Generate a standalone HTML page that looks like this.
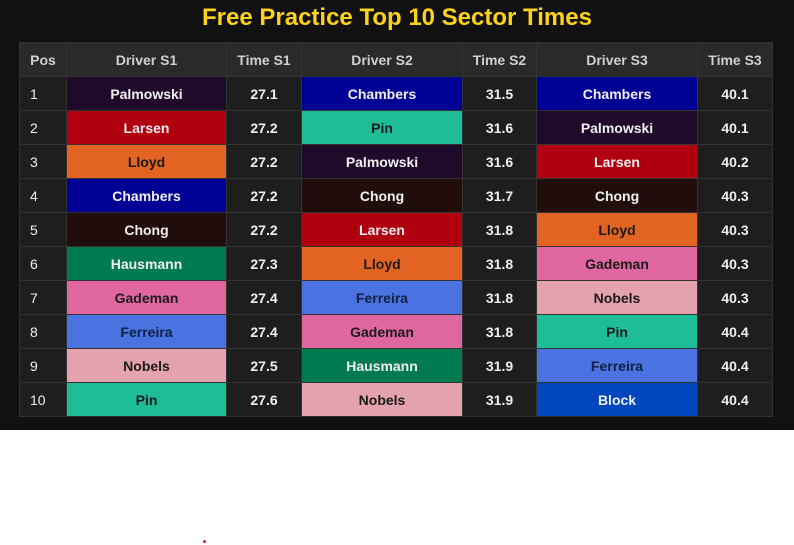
<!DOCTYPE html>
<html><head><meta charset="utf-8">
<style>
html,body{margin:0;padding:0;width:794px;height:545px;background:#fff;overflow:hidden;font-family:"Liberation Sans",Arial,sans-serif}
#panel{position:absolute;left:0;top:0;width:794px;height:430px;background:#111}
#title{position:absolute;left:0;top:4px;width:794px;text-align:center;color:#ffd21a;font-weight:bold;font-size:24px;line-height:28px}
table{position:absolute;left:19px;top:42px;border-collapse:collapse;table-layout:fixed}
td,th{border:1px solid #333;height:33px;padding:0;font-size:14px;text-align:center;color:#f0f0f0;font-weight:bold;background:#1e1e1e}
th{background:#2a2a2a;color:#d0d0d0}
td.pos{text-align:left;padding-left:10px;font-weight:normal}
#dot{position:absolute;left:203px;top:540px;width:3px;height:3px;background:#e02020;border-radius:50%}
</style></head><body>
<div id="panel"></div>
<div id="title">Free Practice Top 10 Sector Times</div>
<table id="tbl">
<colgroup><col style="width:47px"><col style="width:160px"><col style="width:75px"><col style="width:161px"><col style="width:74px"><col style="width:161px"><col style="width:75px"></colgroup>
<thead><tr>
<th>Pos</th>
<th>Driver S1</th>
<th>Time S1</th>
<th>Driver S2</th>
<th>Time S2</th>
<th>Driver S3</th>
<th>Time S3</th>
</tr></thead><tbody id="tb"></tbody></table>
<div id="dot"></div>
<script>
const driversS1=["Palmowski","Larsen","Lloyd","Chambers","Chong","Hausmann","Gademan","Ferreira","Nobels","Pin"];
const timesS1=[27.1,27.2,27.2,27.2,27.2,27.3,27.4,27.4,27.5,27.6];
const driversS2=["Chambers","Pin","Palmowski","Chong","Larsen","Lloyd","Ferreira","Gademan","Hausmann","Nobels"];
const timesS2=[31.5,31.6,31.6,31.7,31.8,31.8,31.8,31.8,31.9,31.9];
const driversS3=["Chambers","Palmowski","Larsen","Chong","Lloyd","Gademan","Nobels","Pin","Ferreira","Block"];
const timesS3=[40.1,40.1,40.2,40.3,40.3,40.3,40.3,40.4,40.4,40.4];
const colors={Palmowski:["#1f0a2a","#f0f0f0"],Larsen:["#b00010","#f0f0f0"],Lloyd:["#e26322","#1a1a1a"],Chambers:["#000094","#f0f0f0"],Chong:["#210e0c","#f0f0f0"],Hausmann:["#007a50","#f0f0f0"],Gademan:["#e066a0","#1a1a1a"],Ferreira:["#4a72e0","#102040"],Nobels:["#e4a1ae","#1a1a1a"],Pin:["#1dbd98","#1a1a1a"],Block:["#0046bc","#f0f0f0"]};
const tb=document.getElementById('tb');
function drv(tr,name,s){const td=document.createElement('td');td.textContent=name;


const c=colors[name];td.style.background=c[0];td.style.color=c[1];tr.appendChild(td);}
function tm(tr,v,s){const td=document.createElement('td');td.textContent=v.toFixed(1);


tr.appendChild(td);}
for(let i=0;i<driversS1.length;i++){
const tr=document.createElement('tr');


const p=document.createElement('td');p.className='pos';p.textContent=i+1;


tr.appendChild(p);
drv(tr,driversS1[i],'s1');tm(tr,timesS1[i],'s1');
drv(tr,driversS2[i],'s2');tm(tr,timesS2[i],'s2');
drv(tr,driversS3[i],'s3');tm(tr,timesS3[i],'s3');
tb.appendChild(tr);}
</script>
</body></html>
